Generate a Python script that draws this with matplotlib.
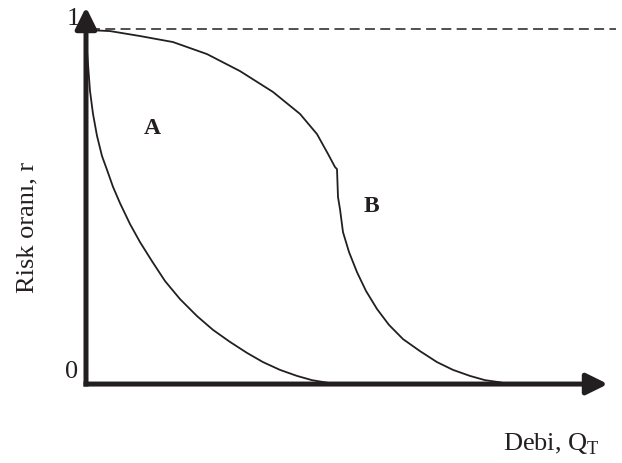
import matplotlib
matplotlib.use('Agg')
import matplotlib.pyplot as plt

# risk ratio curves (Q in arbitrary units, r in 0..1)
q_a = [0.0, 0.01, 0.02, 0.04, 0.07, 0.11, 0.16, 0.21, 0.27, 0.34, 0.44, 0.54, 0.66,
       0.79, 0.94, 1.11, 1.27, 1.44, 1.61, 1.77, 1.94, 2.11, 2.26, 2.41, 2.49]
r_a = [0.975, 0.941, 0.904, 0.828, 0.763, 0.701, 0.644, 0.605, 0.557, 0.511, 0.452,
       0.401, 0.347, 0.291, 0.240, 0.192, 0.153, 0.119, 0.088, 0.062, 0.040, 0.023,
       0.011, 0.004, 0.0]

q_b = [0.01, 0.24, 0.54, 0.87, 1.21, 1.54, 1.87, 2.14, 2.31, 2.42, 2.49, 2.51, 2.52,
       2.54, 2.57, 2.63, 2.71, 2.80, 2.91, 3.03, 3.17, 3.34, 3.51, 3.67, 3.84, 3.99,
       4.14, 4.22]
r_b = [1.0, 0.997, 0.983, 0.966, 0.932, 0.884, 0.825, 0.763, 0.706, 0.650, 0.613,
       0.607, 0.528, 0.494, 0.429, 0.373, 0.316, 0.263, 0.212, 0.167, 0.127, 0.093,
       0.062, 0.040, 0.023, 0.011, 0.005, 0.0]

ink = '#231f20'

plt.rcParams['font.family'] = ['Liberation Serif', 'DejaVu Serif']
plt.rcParams['mathtext.fontset'] = 'custom'
plt.rcParams['mathtext.rm'] = 'Liberation Serif'

fig = plt.figure(figsize=(6.22, 4.64), dpi=100)
ax = fig.add_axes([0, 0, 1, 1])
ax.set_xlim(-0.86, 5.36)
ax.set_ylim(-0.223, 1.0876)
ax.axis('off')

# dashed line at r = 1
ax.plot([0.04, 5.3], [1.003, 1.003], color=ink, lw=1.1, ls=(0, (6.5, 3.5)))

ax.plot(q_a, r_a, color=ink, lw=1.3)
ax.plot(q_b, r_b, color=ink, lw=1.3)

# thick axes with arrow heads
arrow = dict(arrowstyle='-|>,head_length=0.65,head_width=0.32', lw=3.6,
             color=ink, mutation_scale=20, shrinkA=0, shrinkB=0, capstyle='butt')
ax.annotate('', xy=(5.22, 0), xytext=(-0.025, 0), arrowprops=arrow)
ax.annotate('', xy=(0, 1.065), xytext=(0, -0.007), arrowprops=arrow)

ax.text(-0.13, 1.035, '1', fontsize=19, ha='center', va='center', color=ink)
ax.text(-0.14, 0.036, '0', fontsize=19, ha='center', va='center', color=ink)
ax.text(-0.59, 0.446, 'Risk oranı, r', fontsize=19, rotation=90,
        ha='center', va='center', color=ink)
ax.text(4.65, -0.167, r'Debi, Q$_\mathrm{T}$', fontsize=19,
        ha='center', va='center', color=ink)
ax.text(0.66, 0.726, 'A', fontsize=17, fontweight='bold', ha='center', va='center', color=ink)
ax.text(2.85, 0.503, 'B', fontsize=17, fontweight='bold', ha='center', va='center', color=ink)

plt.savefig('out.png', dpi=100)
plt.close()
